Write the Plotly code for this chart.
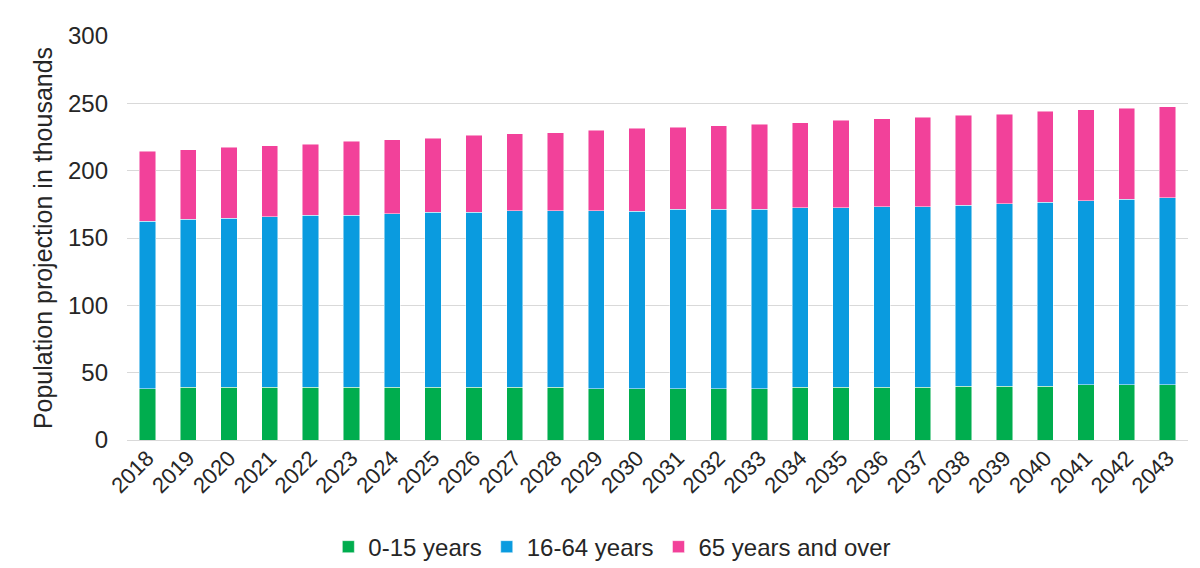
import plotly.graph_objects as go

years = [str(y) for y in range(2018, 2044)]
age_0_15 = [38, 39, 39, 39, 39, 39, 39, 39, 39, 39, 39, 38, 38, 38, 38, 38, 39, 39, 39, 39, 40, 40, 40, 41, 41, 41]
age_16_64 = [124.5, 124.8, 125.5, 126.8, 128, 128, 129, 130, 130, 131.3, 131.3, 132.3, 132, 133.3, 133.3, 133.3,
             133.3, 133.3, 134.3, 134.3, 134.5, 135.5, 136.5, 136.8, 137.8, 139]
age_65_plus = [52, 51.7, 53, 52.7, 52.8, 55, 55, 55.2, 57.2, 57, 58, 59.9, 61.5, 61, 62.2, 63.2,
               63.4, 65.3, 65.2, 66.2, 66.5, 66.5, 67.5, 67.5, 67.5, 67.5]
y_ticks = [0, 50, 100, 150, 200, 250, 300]

series = [
    ("0-15 years", age_0_15, "#00AD4E"),
    ("16-64 years", age_16_64, "#0A9BDF"),
    ("65 years and over", age_65_plus, "#F2419A"),
]

fig = go.Figure()
for name, vals, color in series:
    fig.add_trace(go.Bar(
        x=years, y=vals, name=name,
        marker=dict(color=color, line=dict(color="rgba(255,255,255,0.6)", width=0.8)),
    ))

font_fam = "Liberation Sans, Arial, sans-serif"
fig.update_layout(
    barmode="stack",
    bargap=0.6,
    width=1192, height=560,
    margin=dict(l=119, r=12, t=28, b=128, autoexpand=False),
    plot_bgcolor="white", paper_bgcolor="white",
    font=dict(family=font_fam, color="#262626", size=23),
    xaxis=dict(
        type="category", tickangle=-45, tickfont=dict(size=22),
        showgrid=False, showline=False, ticks="", automargin=False,
    ),
    yaxis=dict(
        range=[0, 300], tickvals=y_ticks, tickfont=dict(size=24),
        showgrid=True, gridcolor="#D9D9D9", gridwidth=1,
        zeroline=True, zerolinecolor="#D9D9D9", zerolinewidth=1,
        title=dict(text="Population projection in thousands", font=dict(size=25), standoff=8),
        ticks="", ticklabelstandoff=18, automargin=False,
    ),
    legend=dict(
        orientation="h", xref="container", x=0.507, xanchor="center",
        y=-0.265, yanchor="middle",
        font=dict(size=24), itemwidth=30, traceorder="normal",
    ),
)

fig.write_html("out.html")
